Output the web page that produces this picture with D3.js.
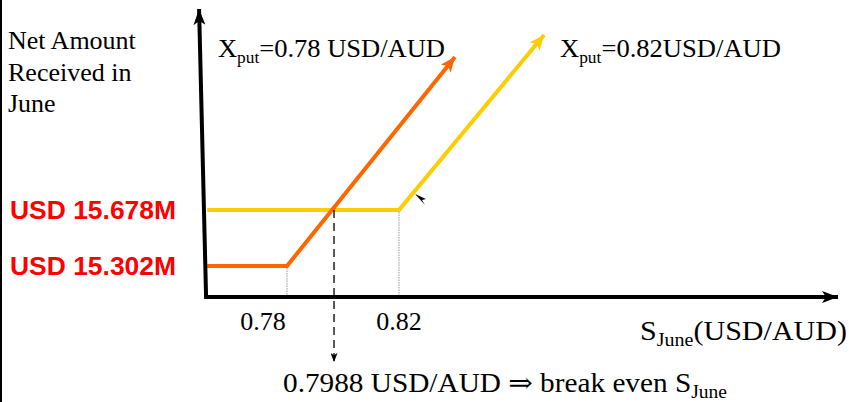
<!DOCTYPE html>
<html><head><meta charset="utf-8">
<script src="https://cdn.jsdelivr.net/npm/d3@7"></script>
<style>
html,body{margin:0;padding:0;background:#fff;}
svg{display:block;}
.serif{font-family:"Liberation Serif","Times New Roman","DejaVu Serif",serif;}
</style></head>
<body>
<svg id="c" width="849" height="402"></svg>
<script>
// ---- data ----
const strikes = [0.78, 0.82];                 // X_put values (tick labels)
const tickLabels = ["0.78", "0.82"];
const levels = [15.302, 15.678];              // net amount floors (USD M)
const levelLabels = ["USD 15.302M", "USD 15.678M"];
const seriesNames = ["0.78 USD/AUD", "0.82USD/AUD"];
const seriesColors = ["#ff6600", "#ffcc00"];
// payoff lines: start (axis), kink at strike, end (arrow tip)
const orangeX = [0.7515, 0.78, 0.840];
const orangeY = [15.302, 15.302, 16.705];
const yellowX = [0.7515, 0.82, 0.8718];
const yellowY = [15.678, 15.678, 16.853];
const breakEvenLabel = "0.7988 USD/AUD";

// ---- layout ----
const svg = d3.select("#c");
const x = d3.scaleLinear().domain([0.78, 0.82]).range([287, 399]);
const y = d3.scaleLinear().domain([15.302, 15.678]).range([266, 210]);
const xMin = 0.7511, yMin = 15.0935;
const x0 = x(xMin), y0 = y(yMin);
const xAxisEnd = 838, yAxisTop = 9, yTilt = -7;

// left border
svg.append("line").attr("x1",1).attr("x2",1).attr("y1",0).attr("y2",402)
  .attr("stroke","#000").attr("stroke-width",2);

const defs = svg.append("defs");
function marker(id, color, len, wid){
  defs.append("marker").attr("id",id).attr("markerUnits","userSpaceOnUse")
    .attr("viewBox",`0 ${-wid/2} ${len} ${wid}`).attr("refX",len).attr("refY",0)
    .attr("markerWidth",len).attr("markerHeight",wid).attr("orient","auto")
    .append("path").attr("d",`M0,${-wid/2}L${len},0L0,${wid/2}L${len*0.25},0Z`).attr("fill",color);
}
marker("axArrow","#000",16,12);
marker("orArrow",seriesColors[0],15,13);
marker("yeArrow",seriesColors[1],15,13);
marker("dashArrow","#000",9,7);

// dotted guides at strikes
strikes.forEach((s,i)=>{
  svg.append("line").attr("x1",x(s)).attr("x2",x(s)).attr("y1",y(levels[i])+2).attr("y2",y0)
    .attr("stroke","#9a9a9a").attr("stroke-width",1).attr("stroke-dasharray","1.5,1");
});

// payoff lines
const line = d3.line().x(d=>x(d[0])).y(d=>y(d[1]));
svg.append("path").datum(yellowX.map((v,i)=>[v,yellowY[i]]))
  .attr("d",line).attr("fill","none").attr("stroke",seriesColors[1]).attr("stroke-width",4)
  .attr("marker-end","url(#yeArrow)");
svg.append("path").datum(orangeX.map((v,i)=>[v,orangeY[i]]))
  .attr("d",line).attr("fill","none").attr("stroke",seriesColors[0]).attr("stroke-width",4)
  .attr("marker-end","url(#orArrow)");

// break-even: intersection of orange rising segment with yellow floor
const slope = (orangeY[2]-orangeY[1])/(orangeX[2]-orangeX[1]);
const be = orangeX[1] + (yellowY[0]-orangeY[1])/slope;
svg.append("line").attr("x1",x(be)+2).attr("x2",x(be)+2).attr("y1",y(yellowY[0])).attr("y2",362)
  .attr("stroke","#000").attr("stroke-width",1.3).attr("stroke-dasharray","8,5")
  .attr("marker-end","url(#dashArrow)");

// axes
svg.append("line").attr("x1",x0).attr("y1",y0).attr("x2",x0+yTilt).attr("y2",yAxisTop)
  .attr("stroke","#000").attr("stroke-width",4).attr("marker-end","url(#axArrow)");
svg.append("line").attr("x1",x0-2).attr("y1",y0).attr("x2",xAxisEnd).attr("y2",y0)
  .attr("stroke","#000").attr("stroke-width",4).attr("marker-end","url(#axArrow)");

// small stray arrowhead
const sx = x(0.82)+16, sy = y(15.678)-16;
svg.append("path").attr("d",`M${sx},${sy}l11,5l-4,1l3,5z`).attr("fill","#000");

// tick labels
const tickDx = [-24, 0];
svg.selectAll(".tick").data(strikes).enter().append("text").attr("class","serif")
  .attr("x",(d,i)=>x(d)+tickDx[i]).attr("y",330).attr("text-anchor","middle")
  .attr("font-size",26).attr("fill","#000").text((d,i)=>tickLabels[i]);

// level labels
svg.selectAll(".lvl").data(levels).enter().append("text")
  .attr("x",10).attr("y",d=>y(d)+9).attr("font-family","Liberation Sans, Arial, sans-serif")
  .attr("font-weight","bold").attr("font-size",25).attr("fill","#ff0000")
  .attr("textLength",166).attr("lengthAdjust","spacingAndGlyphs")
  .text((d,i)=>levelLabels[i]);

// y-axis title
const yt = svg.append("text").attr("class","serif").attr("font-size",26).attr("fill","#000");
["Net Amount","Received in","June"].forEach((t,i)=>{
  yt.append("tspan").attr("x",8).attr("y",49+i*31.5).text(t);
});

// series labels
function xput(xpos, label, len){
  const t = svg.append("text").attr("class","serif").attr("x",xpos).attr("y",57)
    .attr("font-size",26).attr("fill","#000")
    .attr("textLength",len).attr("lengthAdjust","spacingAndGlyphs");
  t.append("tspan").text("X");
  t.append("tspan").attr("font-size",17).attr("dy",6).text("put");
  t.append("tspan").attr("dy",-6).text("="+label);
}
xput(218, seriesNames[0], 227);
xput(560, seriesNames[1], 221);

// x-axis title
const xt = svg.append("text").attr("class","serif").attr("x",640).attr("y",340)
  .attr("font-size",27).attr("fill","#000")
  .attr("textLength",207).attr("lengthAdjust","spacingAndGlyphs");
xt.append("tspan").text("S");
xt.append("tspan").attr("font-size",18).attr("dy",6).text("June");
xt.append("tspan").attr("dy",-6).text("(USD/AUD)");

// break-even label
const bt = svg.append("text").attr("class","serif").attr("x",283).attr("y",392)
  .attr("font-size",27).attr("fill","#000")
  .attr("textLength",444).attr("lengthAdjust","spacingAndGlyphs");
bt.append("tspan").text(breakEvenLabel+" \u21d2 break even S");
bt.append("tspan").attr("font-size",18).attr("dy",6).text("June");
</script>
</body></html>
